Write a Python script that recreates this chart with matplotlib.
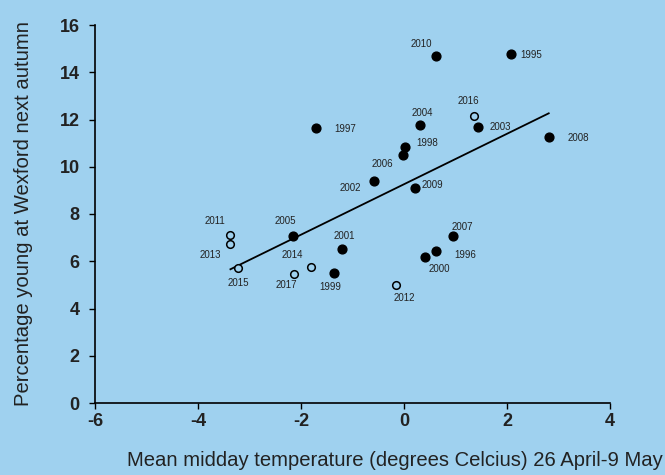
import matplotlib
matplotlib.use('Agg')
import matplotlib.pyplot as plt
import numpy as np

plt.rcParams['font.family'] = ['Liberation Sans', 'DejaVu Sans']
plt.rcParams['axes.unicode_minus'] = False

# data
years = [1995, 1996, 1997, 1998, 1999, 2000, 2001, 2002, 2003, 2004,
         2005, 2006, 2007, 2008, 2009, 2010, 2011, 2012, 2013, 2014,
         2015, 2016, 2017]
temperature = [2.07, 0.63, -1.71, 0.01, -1.36, 0.41, -1.21, -0.58, 1.44, 0.32,
               -2.15, -0.02, 0.95, 2.81, 0.21, 0.63, -3.37, -0.16, -3.37, -1.81,
               -3.23, 1.36, -2.13]
pct_young = [14.79, 6.45, 11.62, 10.82, 5.49, 6.17, 6.51, 9.38, 11.67, 11.77,
             7.07, 10.50, 7.07, 11.28, 9.09, 14.67, 7.09, 5.00, 6.73, 5.75,
             5.73, 12.13, 5.46]
open_marker = [False, False, False, False, False, False, False, False, False, False,
               False, False, False, False, False, False, True, True, True, True,
               True, True, True]
trend_slope = 1.068
trend_intercept = 9.26

xticks = [-6, -4, -2, 0, 2, 4]
yticks = [0, 2, 4, 6, 8, 10, 12, 14, 16]

# label offsets in pixels (dx, dy) relative to each point
label_offset = {
    1995: (21, -1), 1996: (29, -4), 1997: (29, -1), 1998: (23, 4),
    1999: (-4, -14), 2000: (14, -12), 2001: (3, 13), 2002: (-24, -7),
    2003: (22, 0), 2004: (2, 12), 2005: (-8, 15), 2006: (-21, -9),
    2007: (9, 9), 2008: (30, -1), 2009: (18, 3), 2010: (-15, 12),
    2011: (-16, 14), 2012: (9, -13), 2013: (-20, -11), 2014: (-18, 12),
    2015: (1, -15), 2016: (-6, 15), 2017: (-8, -11),
}

bg = '#9fd1ef'
ink = '#222222'

fig = plt.figure(figsize=(6.65, 4.75), dpi=100, facecolor=bg)
ax = fig.add_axes([95 / 665, 1 - 403 / 475, 515 / 665, 378 / 475])
ax.set_facecolor(bg)

temperature = np.array(temperature)
pct_young = np.array(pct_young)
open_marker = np.array(open_marker)

ax.scatter(temperature[~open_marker], pct_young[~open_marker], s=40,
           color='black', zorder=3)
ax.scatter(temperature[open_marker], pct_young[open_marker], s=30,
           facecolor=bg, edgecolor='black', linewidth=1.1, zorder=3)

xfit = np.array([temperature.min(), temperature.max()])
ax.plot(xfit, trend_intercept + trend_slope * xfit, color='black', lw=1.3,
        zorder=2)

for yr, xv, yv in zip(years, temperature, pct_young):
    dx, dy = label_offset[yr]
    ax.annotate(str(yr), (xv, yv), xytext=(dx, dy), textcoords='offset pixels',
                ha='center', va='center', fontsize=7, color=ink)

ax.set_xlim(-6, 4)
ax.set_ylim(0, 16)
ax.set_xticks(xticks)
ax.set_yticks(yticks)
ax.tick_params(direction='out', length=4, width=1, colors='black',
               labelcolor=ink, labelsize=13)
ax.tick_params(axis='y', pad=7)
for lbl in ax.get_xticklabels() + ax.get_yticklabels():
    lbl.set_fontweight('bold')
for side in ['top', 'right']:
    ax.spines[side].set_visible(False)
for side in ['left', 'bottom']:
    ax.spines[side].set_linewidth(1.2)

ax.set_xlabel('Mean midday temperature (degrees Celcius) 26 April-9 May',
              fontsize=14.6, color=ink)
ax.set_ylabel('Percentage young at Wexford next autumn', fontsize=14.6,
              color=ink, labelpad=19)
ax.xaxis.set_label_coords((395 - 95) / 515, -48 / 378)

fig.savefig('out.png', dpi=100, facecolor=bg)
